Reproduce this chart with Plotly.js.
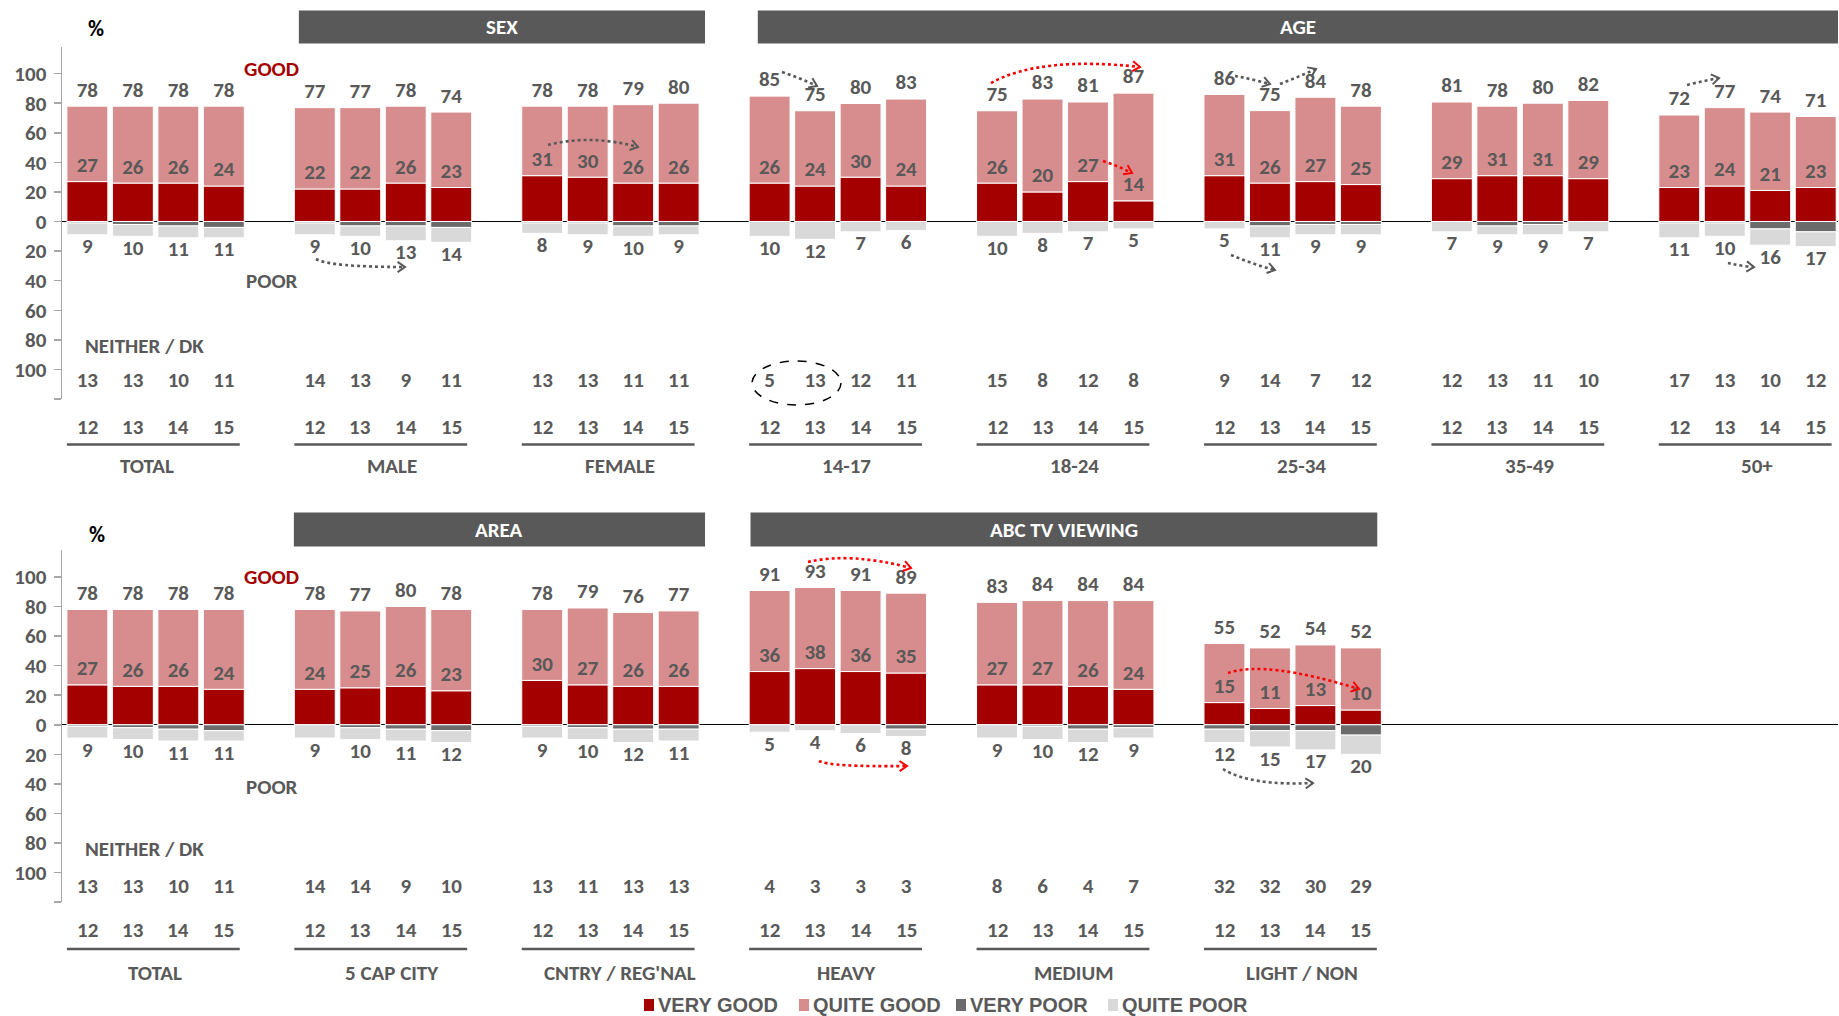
<!DOCTYPE html>
<html>
<head>
<meta charset="utf-8">
<script src="https://cdn.plot.ly/plotly-3.0.1.min.js"></script>
<style>
  html, body { margin: 0; padding: 0; background: #ffffff; width: 1839px; height: 1016px; overflow: hidden; }
  #chart { width: 1839px; height: 1016px; display: block; }
</style>
</head>
<body>
<div id="chart"></div>
<script>
// ---- data ---------------------------------------------------------------
const years = ['12', '13', '14', '15'];

// upper panel: total, sex and age
const topGroups = ['TOTAL', 'MALE', 'FEMALE', '14-17', '18-24', '25-34', '35-49', '50+'];
const topGood = [78,78,78,78, 77,77,78,74, 78,78,79,80, 85,75,80,83, 75,83,81,87, 86,75,84,78, 81,78,80,82, 72,77,74,71];
const topVeryGood = [27,26,26,24, 22,22,26,23, 31,30,26,26, 26,24,30,24, 26,20,27,14, 31,26,27,25, 29,31,31,29, 23,24,21,23];
const topPoor = [9,10,11,11, 9,10,13,14, 8,9,10,9, 10,12,7,6, 10,8,7,5, 5,11,9,9, 7,9,9,7, 11,10,16,17];
const topVeryPoor = [1,2,3,4, 1,3,3,4, 1,1,3,3, 0,0,0,0, 0,0,0,0, 0,3,2,2, 0,3,2,0, 1,1,5,7];
const topNeither = [13,13,10,11, 14,13,9,11, 13,13,11,11, 5,13,12,11, 15,8,12,8, 9,14,7,12, 12,13,11,10, 17,13,10,12];
const topHeaders = ['SEX', 'AGE'];

// lower panel: total, area and ABC TV viewing
const botGroups = ['TOTAL', '5 CAP CITY', "CNTRY / REG'NAL", 'HEAVY', 'MEDIUM', 'LIGHT / NON'];
const botGood = [78,78,78,78, 78,77,80,78, 78,79,76,77, 91,93,91,89, 83,84,84,84, 55,52,54,52];
const botVeryGood = [27,26,26,24, 24,25,26,23, 30,27,26,26, 36,38,36,35, 27,27,26,24, 15,11,13,10];
const botPoor = [9,10,11,11, 9,10,11,12, 9,10,12,11, 5,4,6,8, 9,10,12,9, 12,15,17,20];
const botVeryPoor = [1,2,3,4, 0,2,3,4, 1,2,3,3, 0,0,0,3, 0,1,3,2, 3,4,4,7];
const botNeither = [13,13,10,11, 14,14,9,10, 13,11,13,13, 4,3,3,3, 8,6,4,7, 32,32,30,29];
const botHeaders = ['AREA', 'ABC TV VIEWING'];

const seriesNames = ['VERY GOOD', 'QUITE GOOD', 'VERY POOR', 'QUITE POOR'];

// ---- styling --------------------------------------------------------------
const W = 1839, H = 1016;
const FONT = "Carlito, Lato, sans-serif";
const LEGEND_FONT = "'Liberation Sans', Arial, sans-serif";
const GREY_TEXT = '#595959';
const COLORS = ['#A50000', '#D78D8D', '#6B6B6B', '#D9D9D9'];
const X_RANGE = [-0.558, 38.49];
const Y_RANGE = [-120, 118];
const TXT = 21;

const px = v => v / W;            // pixel -> paper x
const py = v => 1 - v / H;        // pixel -> paper y
const bold = s => '<b>' + s + '</b>';

// bar slot of bar i in group g (four bars + one empty slot per group)
const slot = (g, i) => g * 5 + i;

const traces = [];
const annotations = [];
const shapes = [];

function textFont(size, color) {
  return { family: FONT, size: size, color: color || GREY_TEXT, weight: 700 };
}

function buildPanel(p) {
  const xs = [];
  p.good.forEach((_, k) => xs.push(slot(Math.floor(k / 4), k % 4)));
  const quiteGood = p.good.map((v, k) => v - p.veryGood[k]);
  const quitePoor = p.poor.map((v, k) => v - p.veryPoor[k]);
  const stacks = [p.veryGood, quiteGood, p.veryPoor.map(v => -v), quitePoor.map(v => -v)];

  stacks.forEach((vals, s) => {
    traces.push({
      type: 'bar', x: xs, y: vals, xaxis: p.xa, yaxis: p.ya,
      name: seriesNames[s], showlegend: false,
      marker: { color: COLORS[s], line: { color: '#ffffff', width: 1 } },
      hoverinfo: 'skip'
    });
  });

  const txt = (x, y, t) => ({
    type: 'scatter', mode: 'text', x: x, y: y, text: t.map(v => bold(v)), xaxis: p.xa, yaxis: p.ya,
    textfont: textFont(TXT), textposition: 'middle center', showlegend: false,
    hoverinfo: 'skip', cliponaxis: false
  });
  traces.push(txt(xs, p.good.map(v => v + 10), p.good.map(String)));
  traces.push(txt(xs, p.veryGood.map(v => v + 10), p.veryGood.map(String)));
  traces.push(txt(xs, p.poor.map(v => -v - 9), p.poor.map(String)));
  traces.push(txt(xs, p.neither.map(() => p.neitherY), p.neither.map(String)));

  // year row, underline and group name beneath each block of bars
  p.groups.forEach((name, g) => {
    years.forEach((yr, i) => {
      annotations.push({ xref: p.xa, yref: 'paper', x: slot(g, i), y: py(p.yearPy),
        text: bold(yr), showarrow: false, font: textFont(TXT), xanchor: 'center', yanchor: 'middle' });
    });
    shapes.push({ type: 'line', xref: p.xa, yref: 'paper', x0: slot(g, 0) - 0.45, x1: slot(g, 3) + 0.35,
      y0: py(p.linePy), y1: py(p.linePy), line: { color: GREY_TEXT, width: 2.5 } });
    const shift = g === 0 ? p.firstLabelShift : 1.7;
    annotations.push({ xref: p.xa, yref: 'paper', x: slot(g, shift), y: py(p.labelPy),
      text: bold(name), showarrow: false, font: textFont(TXT), xanchor: 'center', yanchor: 'middle' });
  });

  // dark header bands over the breakdown groups
  p.headers.forEach((h, k) => {
    const [x0, x1] = p.headerX[k];
    shapes.push({ type: 'rect', xref: p.xa, yref: 'paper', x0: x0, x1: x1,
      y0: py(p.headerPy[1]), y1: py(p.headerPy[0]), fillcolor: '#595959', line: { width: 0 }, layer: 'below' });
    annotations.push({ xref: p.xa, yref: 'paper', x: (x0 + x1) / 2, y: py((p.headerPy[0] + p.headerPy[1]) / 2),
      text: bold(h), showarrow: false, font: textFont(TXT, '#ffffff'), xanchor: 'center', yanchor: 'middle' });
  });

  // side captions
  annotations.push({ xref: 'paper', yref: 'paper', x: px(p.pctPx[0]), y: py(p.pctPx[1]), text: bold('%'),
    showarrow: false, font: textFont(22, '#000000'), xanchor: 'center', yanchor: 'middle' });
  annotations.push({ xref: p.xa, yref: p.ya, x: 4.05, y: p.goodY, text: bold('GOOD'), showarrow: false,
    font: textFont(TXT, '#A50000'), xanchor: 'center', yanchor: 'middle' });
  annotations.push({ xref: p.xa, yref: p.ya, x: 4.05, y: p.poorY, text: bold('POOR'), showarrow: false,
    font: textFont(TXT), xanchor: 'center', yanchor: 'middle' });
  annotations.push({ xref: p.xa, yref: p.ya, x: 1.25, y: -84, text: bold('NEITHER / DK'), showarrow: false,
    font: textFont(TXT), xanchor: 'center', yanchor: 'middle' });
}

buildPanel({
  groups: topGroups, good: topGood, veryGood: topVeryGood, poor: topPoor, veryPoor: topVeryPoor,
  neither: topNeither, headers: topHeaders, headerX: [[4.65, 13.58], [14.74, X_RANGE[1]]],
  xa: 'x', ya: 'y', neitherY: -108, yearPy: 427, linePy: 444.5, labelPy: 466, firstLabelShift: 1.3,
  headerPy: [10.5, 43.5], pctPx: [96, 29], goodY: 103, poorY: -40
});
buildPanel({
  groups: botGroups, good: botGood, veryGood: botVeryGood, poor: botPoor, veryPoor: botVeryPoor,
  neither: botNeither, headers: botHeaders, headerX: [[4.54, 13.58], [14.58, 28.36]],
  xa: 'x2', ya: 'y2', neitherY: -110, yearPy: 930, linePy: 949, labelPy: 973, firstLabelShift: 1.48,
  headerPy: [512.5, 546.5], pctPx: [97, 534], goodY: 100, poorY: -42
});

// series key along the bottom edge
const keyLeft = [644, 799, 956, 1108];
seriesNames.forEach((name, s) => {
  shapes.push({ type: 'rect', xref: 'paper', yref: 'paper',
    x0: px(keyLeft[s]), x1: px(keyLeft[s] + 10), y0: py(1011), y1: py(999),
    fillcolor: COLORS[s], line: { width: 0 } });
  annotations.push({ xref: 'paper', yref: 'paper', x: px(keyLeft[s] + 12), y: py(1005),
    text: bold(name), showarrow: false, xanchor: 'left', yanchor: 'middle',
    font: { family: LEGEND_FONT, size: 20, color: GREY_TEXT, weight: 700 } });
});

// dotted trend arrows (pixel geometry: start, control, end)
const arrows = [
  [[316, 259], [330, 267], [405, 267], '#595959'],
  [[548, 145], [590, 134], [638, 147], '#595959'],
  [[782, 72], [800, 78], [817, 86], '#595959'],
  [[991, 83], [1040, 56], [1140, 67], '#FF0000'],
  [[1103, 161], [1118, 166], [1132, 173], '#FF0000'],
  [[1235, 76], [1252, 79], [1270, 84], '#595959'],
  [[1280, 84], [1298, 77], [1316, 69], '#595959'],
  [[1231, 255], [1252, 264], [1275, 270], '#595959'],
  [[1687, 85], [1703, 81], [1719, 78], '#595959'],
  [[1728, 263], [1740, 266], [1754, 267], '#595959'],
  [[808, 562], [850, 552], [911, 568], '#FF0000'],
  [[819, 761], [830, 767], [907, 766], '#FF0000'],
  [[1228, 673], [1265, 660], [1359, 689], '#FF0000'],
  [[1223, 769], [1250, 786], [1313, 783], '#595959']
];
arrows.forEach(([a, c, b, col]) => {
  shapes.push({ type: 'path', xref: 'paper', yref: 'paper',
    path: `M ${px(a[0])},${py(a[1])} Q ${px(c[0])},${py(c[1])} ${px(b[0])},${py(b[1])}`,
    line: { color: col, width: 2.6, dash: 'dot' } });
  const dx = b[0] - c[0], dy = b[1] - c[1];
  const len = Math.hypot(dx, dy) || 1;
  const ux = dx / len, uy = dy / len;
  const arm = (ang) => {
    const ca = Math.cos(ang), sa = Math.sin(ang);
    return [b[0] - 9 * (ux * ca - uy * sa), b[1] - 9 * (ux * sa + uy * ca)];
  };
  const p1 = arm(0.6), p2 = arm(-0.6);
  shapes.push({ type: 'path', xref: 'paper', yref: 'paper',
    path: `M ${px(p1[0])},${py(p1[1])} L ${px(b[0])},${py(b[1])} L ${px(p2[0])},${py(p2[1])}`,
    line: { color: col, width: 2 } });
});

// dashed ring around the first two 14-17 neither/DK values
shapes.push({ type: 'circle', xref: 'paper', yref: 'paper',
  x0: px(752), x1: px(841), y0: py(405), y1: py(361),
  line: { color: '#000000', width: 1.5, dash: 'dash' } });

// ---- axes -------------------------------------------------------------------
const tickVals = [100, 80, 60, 40, 20, 0, -20, -40, -60, -80, -100, -120];
const tickText = ['100', '80', '60', '40', '20', '0', '20', '40', '60', '80', '100', ''].map(t => t ? bold(t) : '');

function yAxis(domain, anchor) {
  return {
    domain: domain, anchor: anchor, range: Y_RANGE, fixedrange: true,
    tickvals: tickVals, ticktext: tickText, tickfont: textFont(TXT), ticklabelstandoff: 3,
    ticks: 'outside', ticklen: 7, tickwidth: 1.5, tickcolor: '#A6A6A6',
    showline: true, linecolor: '#A6A6A6', linewidth: 1.5,
    showgrid: false, zeroline: true, zerolinecolor: '#000000', zerolinewidth: 1.3
  };
}
function xAxis(anchor) {
  return {
    domain: [62 / W, 1838 / W], range: X_RANGE, anchor: anchor, fixedrange: true,
    showgrid: false, zeroline: false, showline: false, showticklabels: false, ticks: ''
  };
}

const layout = {
  width: W, height: H,
  margin: { l: 0, r: 0, t: 0, b: 0 },
  paper_bgcolor: '#ffffff', plot_bgcolor: 'rgba(0,0,0,0)',
  barmode: 'relative', bargap: 0.1,
  font: { family: FONT, color: GREY_TEXT },
  xaxis: xAxis('y'),
  yaxis: yAxis([1 - 399 / H, 1 - 47 / H], 'x'),
  xaxis2: xAxis('y2'),
  yaxis2: yAxis([1 - 902.2 / H, 1 - 550.3 / H], 'x2'),
  showlegend: false,
  annotations: annotations,
  shapes: shapes
};

Plotly.newPlot('chart', traces, layout, { displayModeBar: false, staticPlot: true });
</script>
</body>
</html>
